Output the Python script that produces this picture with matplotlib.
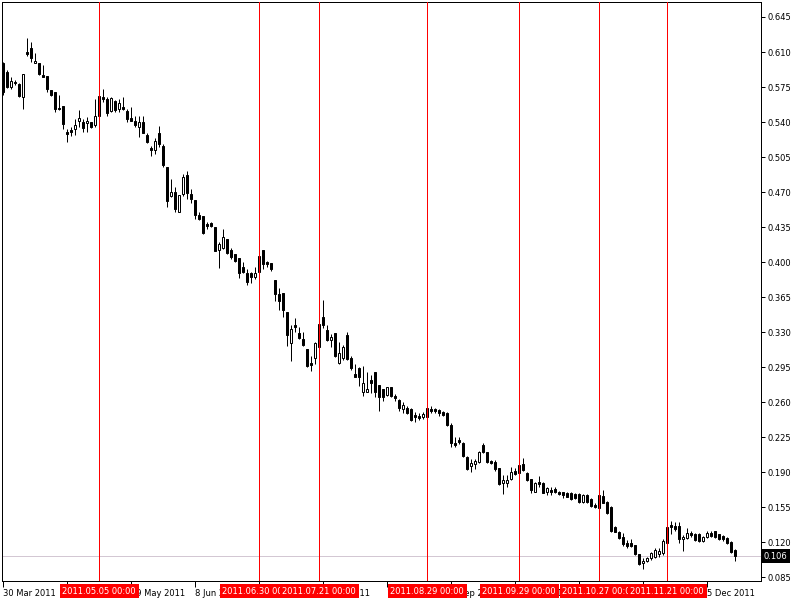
import matplotlib
matplotlib.use("Agg")
import matplotlib.pyplot as plt
import matplotlib.transforms as mtransforms
from matplotlib.patches import Rectangle

# daily OHLC, one bar per trading day from 30 Mar 2011
opens = [.599, .590, .575, .580, .578, .565, .610, .614, .599, .599,
         .587, .586, .572, .570, .554, .556, .530, .532, .533, .541,
         .540, .539, .540, .537, .546, .565, .563, .551, .561, .553,
         .555, .551, .544, .541, .535, .540, .527, .514, .512, .529,
         .516, .495, .466, .470, .450, .468, .487, .468, .462, .447,
         .446, .438, .439, .435, .412, .414, .423, .412, .408, .404,
         .395, .389, .389, .385, .390, .412, .400, .399, .382, .368,
         .369, .350, .319, .337, .329, .323, .313, .299, .304, .315,
         .345, .332, .322, .329, .299, .304, .327, .304, .288, .294,
         .270, .270, .282, .290, .277, .273, .267, .275, .266, .262,
         .253, .254, .253, .247, .246, .245, .245, .253, .253, .252,
         .250, .249, .237, .219, .222, .219, .205, .196, .198, .200,
         .217, .210, .201, .200, .194, .179, .179, .183, .191, .189,
         .198, .189, .183, .170, .180, .179, .170, .172, .173, .170,
         .170, .169, .169, .168, .168, .160, .167, .163, .157, .154,
         .166, .160, .155, .135, .130, .125, .119, .119, .117, .108,
         .099, .101, .104, .105, .108, .109, .119, .137, .136, .136,
         .123, .124, .129, .128, .128, .121, .125, .129, .131, .128,
         .126, .124, .120, .112]
highs = [.600, .592, .585, .582, .579, .588, .624, .620, .609, .599,
         .597, .586, .572, .570, .567, .556, .533, .535, .543, .552,
         .543, .545, .540, .563, .567, .573, .565, .565, .562, .563,
         .565, .553, .555, .546, .546, .546, .529, .516, .524, .536,
         .518, .495, .483, .475, .467, .488, .491, .473, .462, .450,
         .446, .440, .440, .435, .420, .433, .423, .414, .408, .404,
         .400, .393, .390, .395, .407, .412, .401, .399, .382, .374,
         .369, .350, .337, .344, .335, .330, .313, .306, .320, .338,
         .362, .337, .328, .329, .320, .317, .330, .306, .298, .295,
         .296, .290, .287, .290, .277, .273, .275, .275, .268, .263,
         .260, .256, .254, .250, .249, .250, .256, .256, .254, .253,
         .251, .250, .239, .225, .225, .220, .206, .203, .203, .211,
         .219, .210, .202, .202, .194, .187, .187, .195, .194, .198,
         .204, .190, .183, .180, .186, .180, .175, .175, .175, .171,
         .170, .170, .170, .169, .169, .168, .168, .164, .159, .168,
         .172, .161, .156, .136, .131, .129, .122, .123, .117, .108,
         .104, .105, .110, .114, .114, .123, .135, .141, .140, .140,
         .127, .134, .131, .129, .129, .126, .131, .131, .131, .128,
         .127, .125, .121, .113]
lows = [.567, .574, .573, .577, .565, .553, .606, .600, .599, .587,
        .585, .570, .566, .550, .552, .533, .520, .526, .527, .535,
        .530, .530, .534, .535, .545, .560, .546, .550, .550, .550,
        .552, .540, .541, .535, .525, .529, .519, .506, .508, .515,
        .495, .455, .465, .450, .450, .466, .463, .459, .443, .442,
        .428, .433, .435, .411, .394, .413, .408, .403, .400, .384,
        .389, .377, .379, .383, .390, .393, .395, .391, .361, .352,
        .345, .316, .301, .330, .323, .316, .295, .291, .298, .315,
        .334, .321, .315, .305, .298, .302, .302, .292, .285, .276,
        .266, .270, .269, .265, .251, .261, .266, .265, .261, .251,
        .249, .248, .241, .240, .242, .243, .244, .249, .249, .246,
        .246, .236, .215, .215, .218, .205, .192, .190, .193, .199,
        .209, .199, .198, .191, .177, .168, .175, .182, .187, .188,
        .191, .181, .169, .170, .175, .169, .167, .167, .169, .167,
        .164, .165, .162, .163, .159, .159, .159, .155, .154, .154,
        .159, .148, .130, .130, .123, .116, .114, .115, .107, .097,
        .093, .100, .102, .104, .105, .107, .119, .128, .131, .119,
        .111, .123, .125, .121, .120, .120, .124, .125, .124, .122,
        .121, .118, .109, .101]
closes = [.570, .575, .581, .579, .566, .588, .608, .604, .601, .588,
          .585, .573, .567, .553, .553, .538, .528, .530, .537, .544,
          .534, .541, .535, .546, .566, .563, .549, .564, .552, .559,
          .553, .543, .541, .537, .540, .529, .520, .512, .521, .518,
          .497, .461, .470, .453, .467, .485, .469, .463, .447, .443,
          .429, .436, .436, .411, .418, .425, .409, .405, .401, .389,
          .390, .380, .385, .389, .406, .398, .398, .393, .368, .361,
          .352, .327, .333, .335, .324, .317, .296, .297, .319, .338,
          .337, .322, .325, .306, .309, .315, .303, .294, .285, .285,
          .279, .273, .279, .270, .265, .265, .275, .266, .264, .254,
          .257, .249, .242, .245, .244, .248, .254, .251, .251, .249,
          .247, .237, .219, .217, .220, .206, .193, .199, .201, .210,
          .210, .200, .199, .193, .178, .182, .182, .190, .188, .197,
          .192, .182, .172, .179, .178, .169, .174, .170, .170, .168,
          .167, .165, .163, .164, .160, .167, .160, .156, .155, .167,
          .159, .149, .131, .130, .124, .118, .116, .116, .108, .098,
          .101, .104, .109, .112, .111, .121, .135, .135, .133, .123,
          .125, .129, .127, .122, .121, .125, .129, .126, .125, .123,
          .123, .119, .110, .106]

tick_idx = [0, 16, 32, 48, 64, 80, 96, 112, 128, 144, 160, 176]
tick_labels = ["30 Mar 2011", "21 Apr 2011", "19 May 2011", "8 Jun 2011",
               "30 Jun 2011", "22 Jul 2011", "15 Aug 2011", "6 Sep 2011",
               "28 Sep 2011", "20 Oct 2011", "11 Nov 2011", "5 Dec 2011"]
mark_idx = [24, 64, 79, 106, 129, 149, 166]
mark_labels = ["2011.05.05 00:00", "2011.06.30 00:00", "2011.07.21 00:00",
               "2011.08.29 00:00", "2011.09.29 00:00", "2011.10.27 00:00",
               "2011.11.21 00:00"]
price_ticks = [0.085, 0.120, 0.155, 0.190, 0.225, 0.260, 0.295, 0.330, 0.365,
               0.400, 0.435, 0.470, 0.505, 0.540, 0.575, 0.610, 0.645]
last_price = 0.106

plt.rcParams['font.family'] = 'DejaVu Sans'
LW = 0.72  # one pixel at 100 dpi

fig = plt.figure(figsize=(8, 6), dpi=100)
L, R, T, B = 2, 761, 2, 581
ax = fig.add_axes([L / 800, 1 - B / 600, (R - L) / 800, (B - T) / 600])
ax.set_xlim((L - 3.3) / 4, (R - 3.3) / 4)
ax.set_ylim(0.662 - B / 1000, 0.662 - T / 1000)

ax.axhline(last_price, color='#a890a8', lw=LW, ls=(0, (1, 1)), zorder=1)

w = 0.55
for i in range(len(opens)):
    o, h, l, c = opens[i], highs[i], lows[i], closes[i]
    ax.vlines(i, l, h, color='black', lw=LW, zorder=2)
    fc = 'white' if c > o else 'black'
    ax.add_patch(Rectangle((i - w / 2, min(o, c)), w, abs(c - o),
                           fc=fc, ec='black', lw=LW, zorder=3))

for k in mark_idx:
    ax.axvline(k, color='red', lw=LW, zorder=4)

for s in ax.spines.values():
    s.set_linewidth(LW)

ax.yaxis.tick_right()
ax.set_yticks(price_ticks)
ax.set_yticklabels(['%.3f' % v for v in price_ticks])
ax.tick_params(axis='y', direction='out', length=3, width=LW, pad=2,
               labelsize=6, colors='black')
ax.set_xticks(tick_idx)
ax.set_xticklabels(tick_labels)
ax.tick_params(axis='x', direction='out', length=4, width=LW, pad=2,
               labelsize=6)
for lab in ax.get_xticklabels():
    lab.set_ha('left')

trans = mtransforms.blended_transform_factory(ax.transData, ax.transAxes)
for k, txt in zip(mark_idx, mark_labels):
    ax.text(k, -10 / (B - T), txt, transform=trans, ha='center', va='center',
            fontsize=6, color='white', zorder=10, clip_on=False,
            bbox=dict(boxstyle='square,pad=0.3', fc='red', ec='none'))

trans_y = mtransforms.blended_transform_factory(ax.transAxes, ax.transData)
ax.text(1 + 3 / (R - L), last_price, '%.3f' % last_price, transform=trans_y,
        ha='left', va='center', fontsize=6, color='white', zorder=10,
        clip_on=False,
        bbox=dict(boxstyle='square,pad=0.25', fc='black', ec='none'))

fig.savefig('out.png', dpi=100)
